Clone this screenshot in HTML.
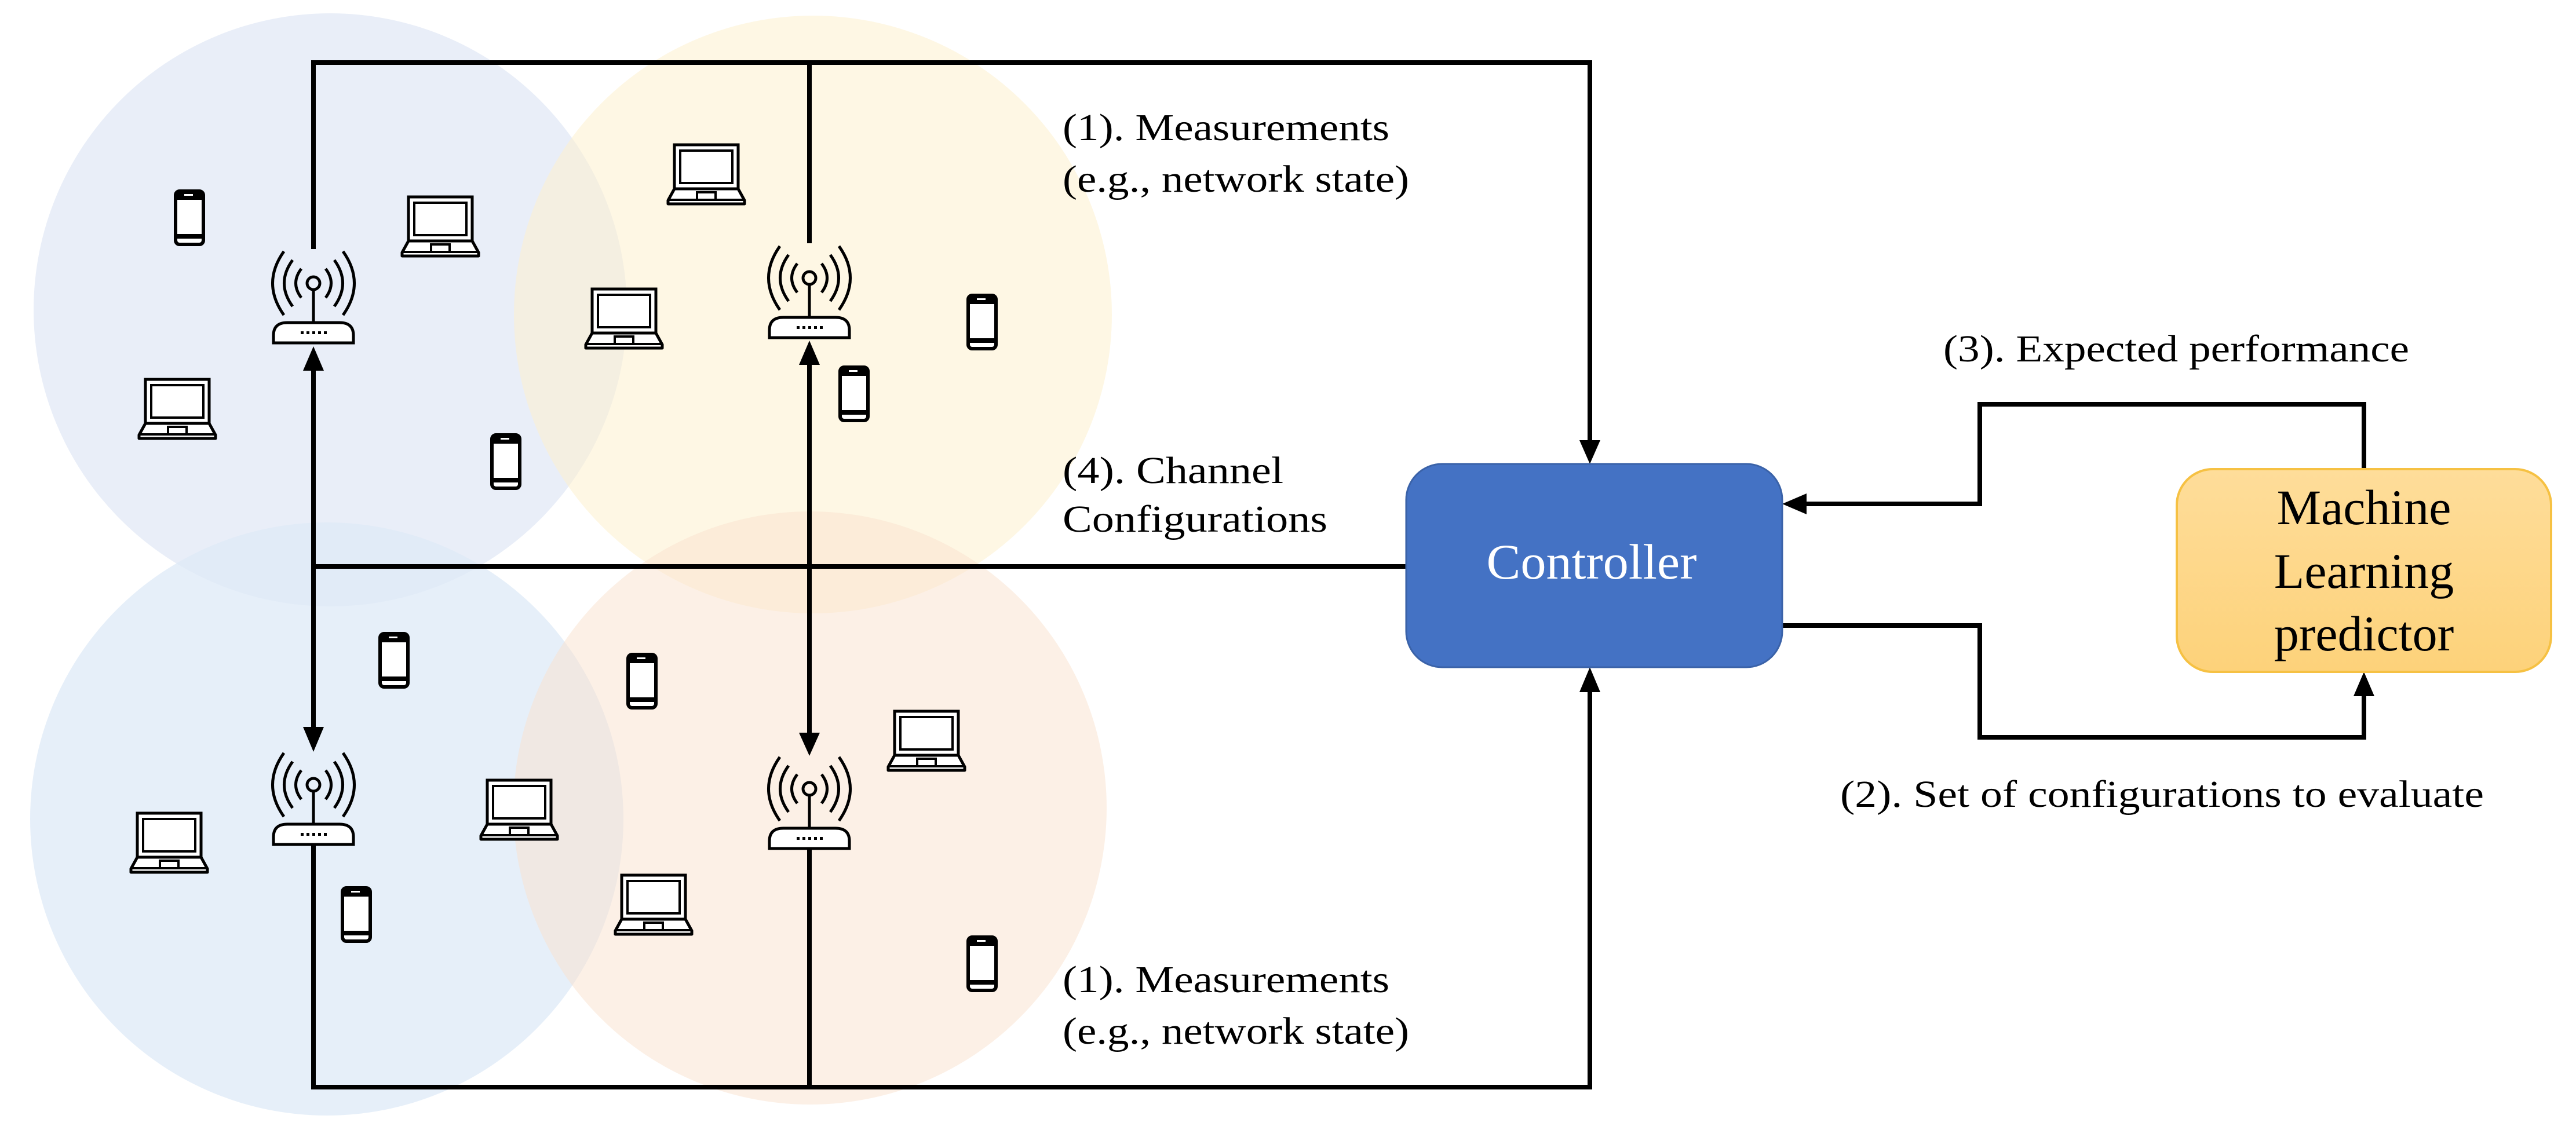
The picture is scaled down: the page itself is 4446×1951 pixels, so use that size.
<!DOCTYPE html>
<html><head><meta charset="utf-8"><style>
html,body{margin:0;padding:0;background:#fff;}
svg{display:block;}
</style></head><body>
<svg width="4446" height="1951" viewBox="0 0 4446 1951" xmlns="http://www.w3.org/2000/svg" font-family="'Liberation Serif', 'Times New Roman', 'DejaVu Serif', serif">
<defs>
<linearGradient id="mlg" x1="0" y1="0" x2="0" y2="1">
<stop offset="0" stop-color="#fedd9a"/><stop offset="1" stop-color="#fdd27a"/>
</linearGradient>
<g id="phone">
<rect x="-24" y="-46" width="48" height="92" rx="7" fill="#fff" stroke="#000" stroke-width="6"/>
<line x1="-22" y1="-34" x2="22" y2="-34" stroke="#000" stroke-width="6"/>
<line x1="-22" y1="32" x2="22" y2="32" stroke="#000" stroke-width="8"/>
<rect x="-22" y="-44" width="44" height="10" fill="#000"/>
<rect x="-9" y="-41" width="15" height="3" fill="#fff"/>
<rect x="-7" y="36" width="14" height="6" fill="#fff"/>
</g>
<g id="laptop">
<rect x="-55" y="-50" width="110" height="76" fill="#fff" stroke="#000" stroke-width="5"/>
<rect x="-45" y="-40" width="90" height="56" fill="#fff" stroke="#000" stroke-width="4"/>
<path d="M-55 26 L55 26 L66 46 L66 52 L-66 52 L-66 46 Z" fill="#fff" stroke="#000" stroke-width="5" stroke-linejoin="round"/>
<line x1="-64" y1="45" x2="64" y2="45" stroke="#000" stroke-width="4"/>
<rect x="-16" y="32" width="32" height="13" fill="none" stroke="#000" stroke-width="4"/>
</g>
<g id="router" fill="none" stroke="#000" stroke-width="5">
<circle cx="0" cy="0" r="11"/>
<line x1="0" y1="11" x2="0" y2="68"/>
<path d="M-21 -25 Q-40 0 -21 25"/><path d="M21 -25 Q40 0 21 25"/>
<path d="M-36 -40 Q-65 0 -36 40"/><path d="M36 -40 Q65 0 36 40"/>
<path d="M-51 -55 Q-90 0 -51 55"/><path d="M51 -55 Q90 0 51 55"/>
<path d="M-69 103 L-69 90 Q-69 68 -45 68 L45 68 Q69 68 69 90 L69 103 Z" fill="#fff"/>
<g stroke="none" fill="#000"><rect x="-22" y="83" width="5" height="5"/><rect x="-12" y="83" width="5" height="5"/><rect x="-2" y="83" width="5" height="5"/><rect x="8" y="83" width="5" height="5"/><rect x="18" y="83" width="5" height="5"/></g>
</g>
</defs>

<circle cx="570" cy="535" r="512" fill="#e9eef8"/>
<circle cx="564" cy="1414" r="512" fill="rgba(222,233,247,0.75)"/>
<circle cx="1403" cy="543" r="516" fill="rgba(254,240,205,0.55)"/>
<circle cx="1398" cy="1395" r="512" fill="rgba(250,225,205,0.5)"/>

<g stroke="#000" stroke-width="8" fill="none">
<polyline points="541,430 541,108 2744,108 2744,760"/>
<line x1="1397" y1="108" x2="1397" y2="420"/>
<polyline points="541,640 541,978 2427,978"/>
<line x1="541" y1="978" x2="541" y2="1255"/>
<line x1="1397" y1="630" x2="1397" y2="1265"/>
<polyline points="541,1460 541,1877 2744,1877 2744,1195"/>
<line x1="1397" y1="1465" x2="1397" y2="1877"/>
<polyline points="4080,810 4080,698 3417,698 3417,870 3118,870"/>
<polyline points="3076,1080 3417,1080 3417,1273 4080,1273 4080,1202"/>
</g>
<g fill="#000">
<polygon points="541,598 523,640 559,640"/>
<polygon points="1397,588 1379,630 1415,630"/>
<polygon points="541,1298 523,1255 559,1255"/>
<polygon points="1397,1305 1379,1265 1415,1265"/>
<polygon points="2744,801 2726,760 2762,760"/>
<polygon points="2744,1152 2726,1195 2762,1195"/>
<polygon points="3076,870 3118,852 3118,888"/>
<polygon points="4080,1160 4062,1202 4098,1202"/>
</g>

<use href="#router" x="541" y="489"/>
<use href="#router" x="1397" y="480"/>
<use href="#router" x="541" y="1355"/>
<use href="#router" x="1397" y="1362"/>

<use href="#phone" x="327" y="376"/>
<use href="#phone" x="873" y="797"/>
<use href="#phone" x="1695" y="556"/>
<use href="#phone" x="1474" y="680"/>
<use href="#phone" x="680" y="1140"/>
<use href="#phone" x="1108" y="1176"/>
<use href="#phone" x="615" y="1579"/>
<use href="#phone" x="1695" y="1664"/>
<use href="#laptop" x="760" y="390"/>
<use href="#laptop" x="1219" y="300"/>
<use href="#laptop" x="1077" y="549"/>
<use href="#laptop" x="306" y="705"/>
<use href="#laptop" x="1599" y="1278"/>
<use href="#laptop" x="896" y="1397"/>
<use href="#laptop" x="292" y="1454"/>
<use href="#laptop" x="1128" y="1561"/>

<rect x="2427" y="801" width="649" height="351" rx="62" fill="#4472c4" stroke="#3a62a8" stroke-width="3"/>
<text x="2747" y="999" font-size="86" fill="#fff" text-anchor="middle" textLength="363" lengthAdjust="spacingAndGlyphs">Controller</text>
<rect x="3757" y="810" width="646" height="350" rx="62" fill="url(#mlg)" stroke="#f6c143" stroke-width="4"/>
<text x="4080" y="905" font-size="86" fill="#000" text-anchor="middle">Machine</text>
<text x="4080" y="1015" font-size="86" fill="#000" text-anchor="middle">Learning</text>
<text x="4080" y="1123" font-size="86" fill="#000" text-anchor="middle">predictor</text>

<g font-size="66" fill="#000">
<text x="1834" y="242" textLength="564" lengthAdjust="spacingAndGlyphs">(1). Measurements</text>
<text x="1834" y="331" textLength="598" lengthAdjust="spacingAndGlyphs">(e.g., network state)</text>
<text x="1834" y="834" textLength="381" lengthAdjust="spacingAndGlyphs">(4). Channel</text>
<text x="1834" y="918" textLength="457" lengthAdjust="spacingAndGlyphs">Configurations</text>
<text x="1834" y="1713" textLength="564" lengthAdjust="spacingAndGlyphs">(1). Measurements</text>
<text x="1834" y="1802" textLength="598" lengthAdjust="spacingAndGlyphs">(e.g., network state)</text>
<text x="3354" y="624" textLength="804" lengthAdjust="spacingAndGlyphs">(3). Expected performance</text>
<text x="3176" y="1393" textLength="1111" lengthAdjust="spacingAndGlyphs">(2). Set of configurations to evaluate</text>
</g>
</svg>
</body></html>
